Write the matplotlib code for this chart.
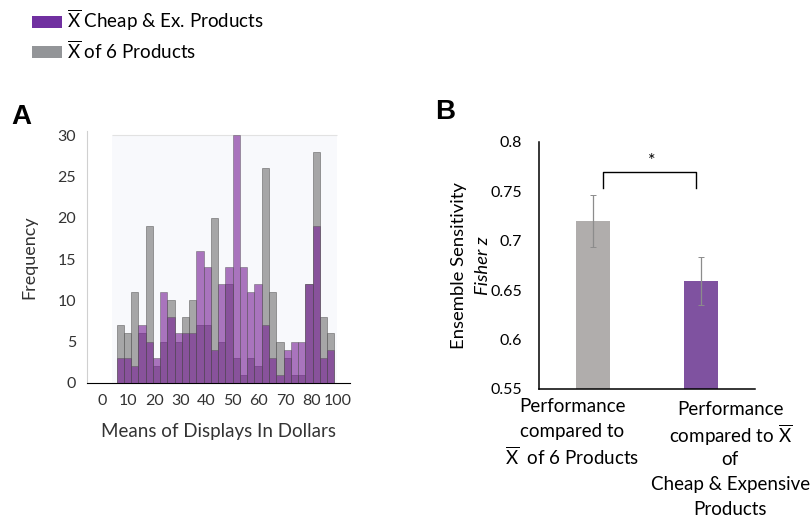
import numpy as np
import matplotlib
matplotlib.use("Agg")
from matplotlib import pyplot as plt
from matplotlib.patches import Patch, Rectangle

plt.rcParams['font.family'] = ['Lato', 'DejaVu Sans']
plt.rcParams['mathtext.fontset'] = 'custom'
plt.rcParams['mathtext.rm'] = 'Lato'
plt.rcParams['mathtext.it'] = 'Lato:italic'

## histogram counts (30 bins)
six_counts = [7, 6, 11, 6, 19, 2, 5, 10, 5, 8, 10, 7, 7, 20, 5,
              12, 3, 1, 3, 2, 26, 11, 5, 3, 1, 1, 12, 28, 8, 6]
cheap_counts = [3, 3, 2, 7, 5, 3, 11, 8, 6, 6, 6, 16, 14, 4, 12,
                14, 30, 14, 11, 12, 7, 3, 1, 4, 5, 5, 12, 19, 3, 4]
hist_xticks = [0, 10, 20, 30, 40, 50, 60, 70, 80, 90]
hist_xlabels = ['0', '10', '20', '30', '40', '50', '60', '70', '80', '100']
hist_yticks = [0, 5, 10, 15, 20, 25, 30]

## panel B
sens = [0.72, 0.659]
sens_err = [0.026, 0.024]
b_yticks = [0.55, 0.6, 0.65, 0.7, 0.75, 0.8]
b_ylabels = ['0.55', '0.6', '0.65', '0.7', '0.75', '0.8']
xbar = '$\\overline{\\mathrm{X}}$'
left_lines = ['Performance', 'compared to', xbar + '  of 6 Products']
right_lines = ['Performance', 'compared to ' + xbar, 'of', 'Cheap & Expensive', 'Products']

bin_start, bin_w = 5.7, 2.77
edges = bin_start + bin_w*np.arange(len(six_counts))

fig = plt.figure(figsize=(8.11, 5.2), dpi=100)

#### panel A
axA = fig.add_axes([0.1073, 0.2635, 0.3243, 0.4845])
axA.add_patch(Rectangle((3.8, 0), 86.2, 30, facecolor='#f8f9fc', edgecolor='none', zorder=0))
axA.hlines(30, 3.8, 90, color='#e2e2e2', linewidth=0.8, zorder=0)
axA.bar(edges, six_counts, width=bin_w, align='edge', color='#7f7f7f', alpha=0.68,
        edgecolor='#505050', linewidth=0.5, zorder=2)
axA.bar(edges, cheap_counts, width=bin_w, align='edge', color='#751b93', alpha=0.6,
        edgecolor='#505050', linewidth=0.5, zorder=3)
axA.set_xlim(-5.6, 94.8)
axA.set_ylim(0, 30.5)
axA.set_xticks(hist_xticks)
axA.set_xticklabels(hist_xlabels)
axA.set_yticks(hist_yticks)
axA.tick_params(length=0, labelsize=11.5, colors='#333333')
axA.tick_params(axis='y', pad=8)
axA.tick_params(axis='x', pad=8)
for s in ('top', 'right'):
    axA.spines[s].set_visible(False)
axA.spines['left'].set_color('#d0d0d0')
axA.spines['bottom'].set_color('black')
axA.set_xlabel('Means of Displays In Dollars', fontsize=13.5, color='#333333', labelpad=11)
axA.set_ylabel('Frequency', fontsize=13, color='#333333', labelpad=14)
fig.text(0.014, 0.762, 'A', fontsize=20, fontweight='bold', family='Liberation Sans')

#### panel B
axB = fig.add_axes([0.6646, 0.252, 0.2663, 0.4755])
axB.bar([0, 1], sens, width=0.315, color=['#b0adac', '#7f52a0'], zorder=2)
axB.errorbar([0, 1], sens, yerr=sens_err, fmt='none', ecolor='#8c8c8c',
             elinewidth=0.9, capsize=2, capthick=0.7, zorder=3)
axB.plot([0.095, 0.095, 0.95, 0.95], [0.7533, 0.769, 0.769, 0.7533], color='black', linewidth=1)
axB.text(0.546, 0.7805, '*', ha='center', va='center', fontsize=13)
axB.set_xlim(-0.5, 1.5)
axB.set_ylim(0.55, 0.8)
axB.set_yticks(b_yticks)
axB.set_yticklabels(b_ylabels)
axB.set_xticks([])
axB.tick_params(length=0, labelsize=11.5, pad=12)
for s in ('top', 'right'):
    axB.spines[s].set_visible(False)
axB.spines['left'].set_linewidth(1.1)
axB.spines['bottom'].set_linewidth(1.1)

tr = axB.get_xaxis_transform()
for i, ln in enumerate(left_lines):
    axB.annotate(ln, xy=(-0.19, 0), xycoords=tr, xytext=(0, -0.72*(18 + 25*i)),
                 textcoords='offset points', ha='center', va='center', fontsize=13.5)
for i, ln in enumerate(right_lines):
    axB.annotate(ln, xy=(1.27, 0), xycoords=tr, xytext=(0, -0.72*(21 + 25*i)),
                 textcoords='offset points', ha='center', va='center', fontsize=13.5)
fig.text(0.566, 0.49, 'Ensemble Sensitivity', rotation=90, ha='center', va='center', fontsize=13.3)
fig.text(0.595, 0.49, 'Fisher z', rotation=90, ha='center', va='center', fontsize=13.3, style='italic')
fig.text(0.537, 0.772, 'B', fontsize=20, fontweight='bold', family='Liberation Sans')

#### legend
hands = [Patch(facecolor='#7030a0'), Patch(facecolor='#939598')]
labs = [xbar + ' Cheap & Ex. Products', xbar + ' of 6 Products']
fig.legend(hands, labs, loc='upper left', bbox_to_anchor=(0.040, 0.985), frameon=False,
           fontsize=13.5, handlelength=1.6, handleheight=0.65, handletextpad=0.25,
           labelspacing=0.3, borderpad=0, borderaxespad=0)

fig.savefig('out.png', dpi=100)
